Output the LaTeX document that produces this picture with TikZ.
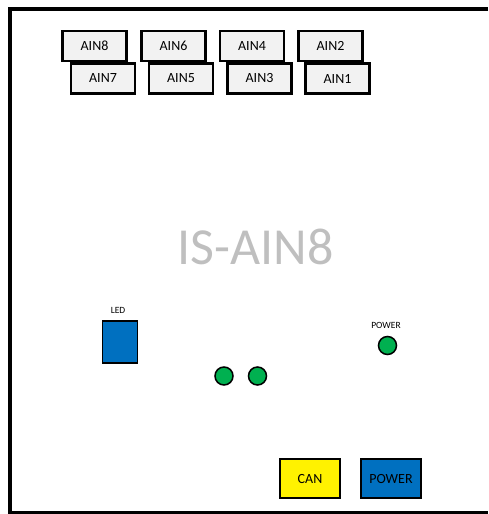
\documentclass[tikz,border=0pt]{standalone}
\usepackage{fontspec}
\setmainfont{Carlito}
\usepackage{tikz}
\usepackage{xcolor}

\definecolor{ledblue}{HTML}{0070C0}
\definecolor{ledgreen}{HTML}{00B050}
\definecolor{boxgray}{HTML}{F2F2F2}
\definecolor{titlegray}{HTML}{BFBFBF}

\begin{document}
\begin{tikzpicture}[x=1pt, y=-1pt, every node/.style={font=\fontsize{14}{16}\selectfont},
  ainbox/.style={rectangle,draw,line width=2.5pt,fill=boxgray,minimum width=64pt,minimum height=30pt,inner sep=0pt},
  plugbox/.style={rectangle,draw,line width=2.5pt,minimum width=60pt,minimum height=39pt,inner sep=0pt},
  lamp/.style={circle,draw,line width=1.5pt,fill=ledgreen,minimum size=18pt,inner sep=0pt},
  tinylabel/.style={font=\fontsize{9.5}{10}\selectfont}]

\useasboundingbox (0,0) rectangle (488,514);

% Housing
\draw[line width=4pt] (488,9) -- (10,9) -- (10,512.5) -- (488,512.5);

% Analog inputs, upper row
\node[ainbox] at (94.5,46) (ain8) {AIN8};
\node[ainbox] at (173.5,46) (ain6) {AIN6};
\node[ainbox] at (252,46) (ain4) {AIN4};
\node[ainbox] at (330.5,46) (ain2) {AIN2};

% Analog inputs, lower row
\node[ainbox] at (103,78.5) (ain7) {AIN7};
\node[ainbox] at (181,78.5) (ain5) {AIN5};
\node[ainbox] at (259.5,78.5) (ain3) {AIN3};
\node[ainbox] at (337.5,78.5) (ain1) {AIN1};

% Title
\node[text=titlegray,font=\fontsize{52}{56}\selectfont] at (255.5,247) (title) {IS-AIN8};

% LED block
\node[rectangle,draw,line width=1.5pt,fill=ledblue,minimum width=35pt,minimum height=42pt,inner sep=0pt] at (120,342) (led) {};
\node[tinylabel] at (118,310) (ledlabel) {LED};

% Green lamps
\node[lamp] at (224,376) (lampa) {};
\node[lamp] at (257.5,376) (lampb) {};
\node[lamp] at (387.5,345.5) (lamppwr) {};
\node[tinylabel] at (386,325) (pwrlabel) {POWER};

% Connectors
\node[plugbox,fill=yellow] at (310,478.5) (can) {CAN};
\node[plugbox,fill=ledblue] at (391,478.5) (power) {POWER};

\end{tikzpicture}
\end{document}
